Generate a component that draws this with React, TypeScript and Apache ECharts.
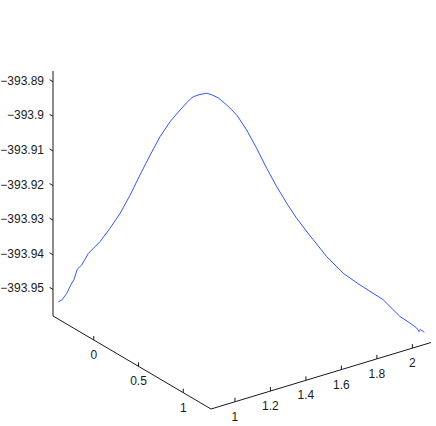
import React, { useEffect, useRef } from "react";
import * as echarts from "echarts";

// Curve data (x, depth y, z)
const curveX = [0.882, 0.894, 0.910, 0.923, 0.934, 0.945, 0.959, 0.981, 1.019, 1.052, 1.085, 1.118, 1.150, 1.183, 1.216, 1.249, 1.282, 1.312, 1.325, 1.347, 1.369, 1.387, 1.407, 1.435, 1.468, 1.500, 1.533, 1.566, 1.599, 1.632, 1.664, 1.706, 1.719, 1.763, 1.817, 1.872, 1.948, 1.970, 2.003, 2.036, 2.058, 2.066, 2.070, 2.083];
const curveY = [-0.430, -0.414, -0.391, -0.372, -0.357, -0.342, -0.321, -0.290, -0.236, -0.189, -0.142, -0.095, -0.049, 0.0, 0.045, 0.091, 0.138, 0.181, 0.200, 0.231, 0.263, 0.287, 0.317, 0.356, 0.403, 0.449, 0.496, 0.543, 0.590, 0.636, 0.683, 0.742, 0.760, 0.823, 0.901, 0.979, 1.087, 1.118, 1.165, 1.212, 1.243, 1.254, 1.261, 1.279];
const curveZ = [-393.9535, -393.9529, -393.9509, -393.9484, -393.9467, -393.9437, -393.9424, -393.9389, -393.9353, -393.9312, -393.9267, -393.9212, -393.9152, -393.9092, -393.9037, -393.8992, -393.8956, -393.8925, -393.8915, -393.8907, -393.8902, -393.8906, -393.8913, -393.8932, -393.8959, -393.9000, -393.9051, -393.9107, -393.9158, -393.9204, -393.9245, -393.9291, -393.9304, -393.9350, -393.9395, -393.9425, -393.9463, -393.9481, -393.9508, -393.9525, -393.9538, -393.9548, -393.9541, -393.9549];

const xTicks = [1, 1.2, 1.4, 1.6, 1.8, 2];
const xTickLabels = ["1", "1.2", "1.4", "1.6", "1.8", "2"];
const yTicks = [0, 0.5, 1];
const yTickLabels = ["0", "0.5", "1"];
const zTicks = [-393.95, -393.94, -393.93, -393.92, -393.91, -393.9, -393.89];
const zTickLabels = ["\u2212393.95", "\u2212393.94", "\u2212393.93", "\u2212393.92", "\u2212393.91", "\u2212393.9", "\u2212393.89"];

const xRange = [0.865, 2.105];
const yRange = [-0.455, 1.31];
const zRange = [-393.9577, -393.8869];

// projection geometry (screen layout)
const ORIGIN = [53, 316];
const XV = [220, -66.5];
const YV = [158, 93];
const ZV = [0, -245];

function project(x: number, y: number, z: number): number[] {
  const fx = (x - xRange[0]) / (xRange[1] - xRange[0]);
  const fy = (y - yRange[0]) / (yRange[1] - yRange[0]);
  const fz = (z - zRange[0]) / (zRange[1] - zRange[0]);
  return [
    ORIGIN[0] + fx * XV[0] + fy * YV[0] + fz * ZV[0],
    ORIGIN[1] + fx * XV[1] + fy * YV[1] + fz * ZV[1],
  ];
}

const AXIS_COLOR = "#1a1a1a";
const FONT = "'Liberation Sans', Arial, Helvetica, sans-serif";
const FONT_SIZE = 12;

export default function App() {
  const ref = useRef<HTMLDivElement>(null);
  useEffect(() => {
    document.body.style.margin = "0";
    const chart = echarts.init(ref.current!, null, { renderer: "svg" });
    const elements: any[] = [];
    const line = (a: number[], b: number[]) => ({
      type: "line",
      silent: true,
      shape: { x1: a[0], y1: a[1], x2: b[0], y2: b[1] },
      style: { stroke: AXIS_COLOR, lineWidth: 1 },
    });
    const text = (t: string, x: number, y: number, align: string) => ({
      type: "text",
      silent: true,
      x,
      y,
      style: {
        text: t,
        fill: AXIS_COLOR,
        fontSize: FONT_SIZE,
        fontFamily: FONT,
        align,
        verticalAlign: "middle",
      },
    });
    // axis lines
    elements.push(line(project(xRange[0], yRange[0], zRange[0]), project(xRange[0], yRange[0], zRange[1])));
    elements.push(line(project(xRange[0], yRange[0], zRange[0]), project(xRange[0], yRange[1], zRange[0])));
    elements.push(line(project(xRange[0], yRange[1], zRange[0]), project(xRange[1], yRange[1], zRange[0])));
    // z ticks
    zTicks.forEach((z, i) => {
      const p = project(xRange[0], yRange[0], z);
      elements.push(line(p, [p[0] - 3.4, p[1] - 2]));
      elements.push(text(zTickLabels[i], 44, p[1] - 1, "right"));
    });
    // y (depth) ticks
    yTicks.forEach((y, i) => {
      const p = project(xRange[0], y, zRange[0]);
      elements.push(line(p, [p[0], p[1] - 4]));
      elements.push(text(yTickLabels[i], p[0], p[1] + 15, "center"));
    });
    // x ticks
    xTicks.forEach((x, i) => {
      const p = project(x, yRange[1], zRange[0]);
      elements.push(line(p, [p[0], p[1] - 4]));
      elements.push(text(xTickLabels[i], p[0], p[1] + 15, "center"));
    });

    const points = curveX.map((x, i) => project(x, curveY[i], curveZ[i]));

    chart.setOption({
      animation: false,
      backgroundColor: "#ffffff",
      graphic: { elements },
      series: [
        {
          type: "custom",
          coordinateSystem: "none",
          data: [[0]],
          silent: true,
          renderItem: () => ({
            type: "polyline",
            shape: { points },
            style: { stroke: "#3355ff", lineWidth: 1, fill: "none" },
          }),
        },
      ],
    });
    return () => chart.dispose();
  }, []);
  return <div ref={ref} style={{ width: 436, height: 426 }} />;
}
